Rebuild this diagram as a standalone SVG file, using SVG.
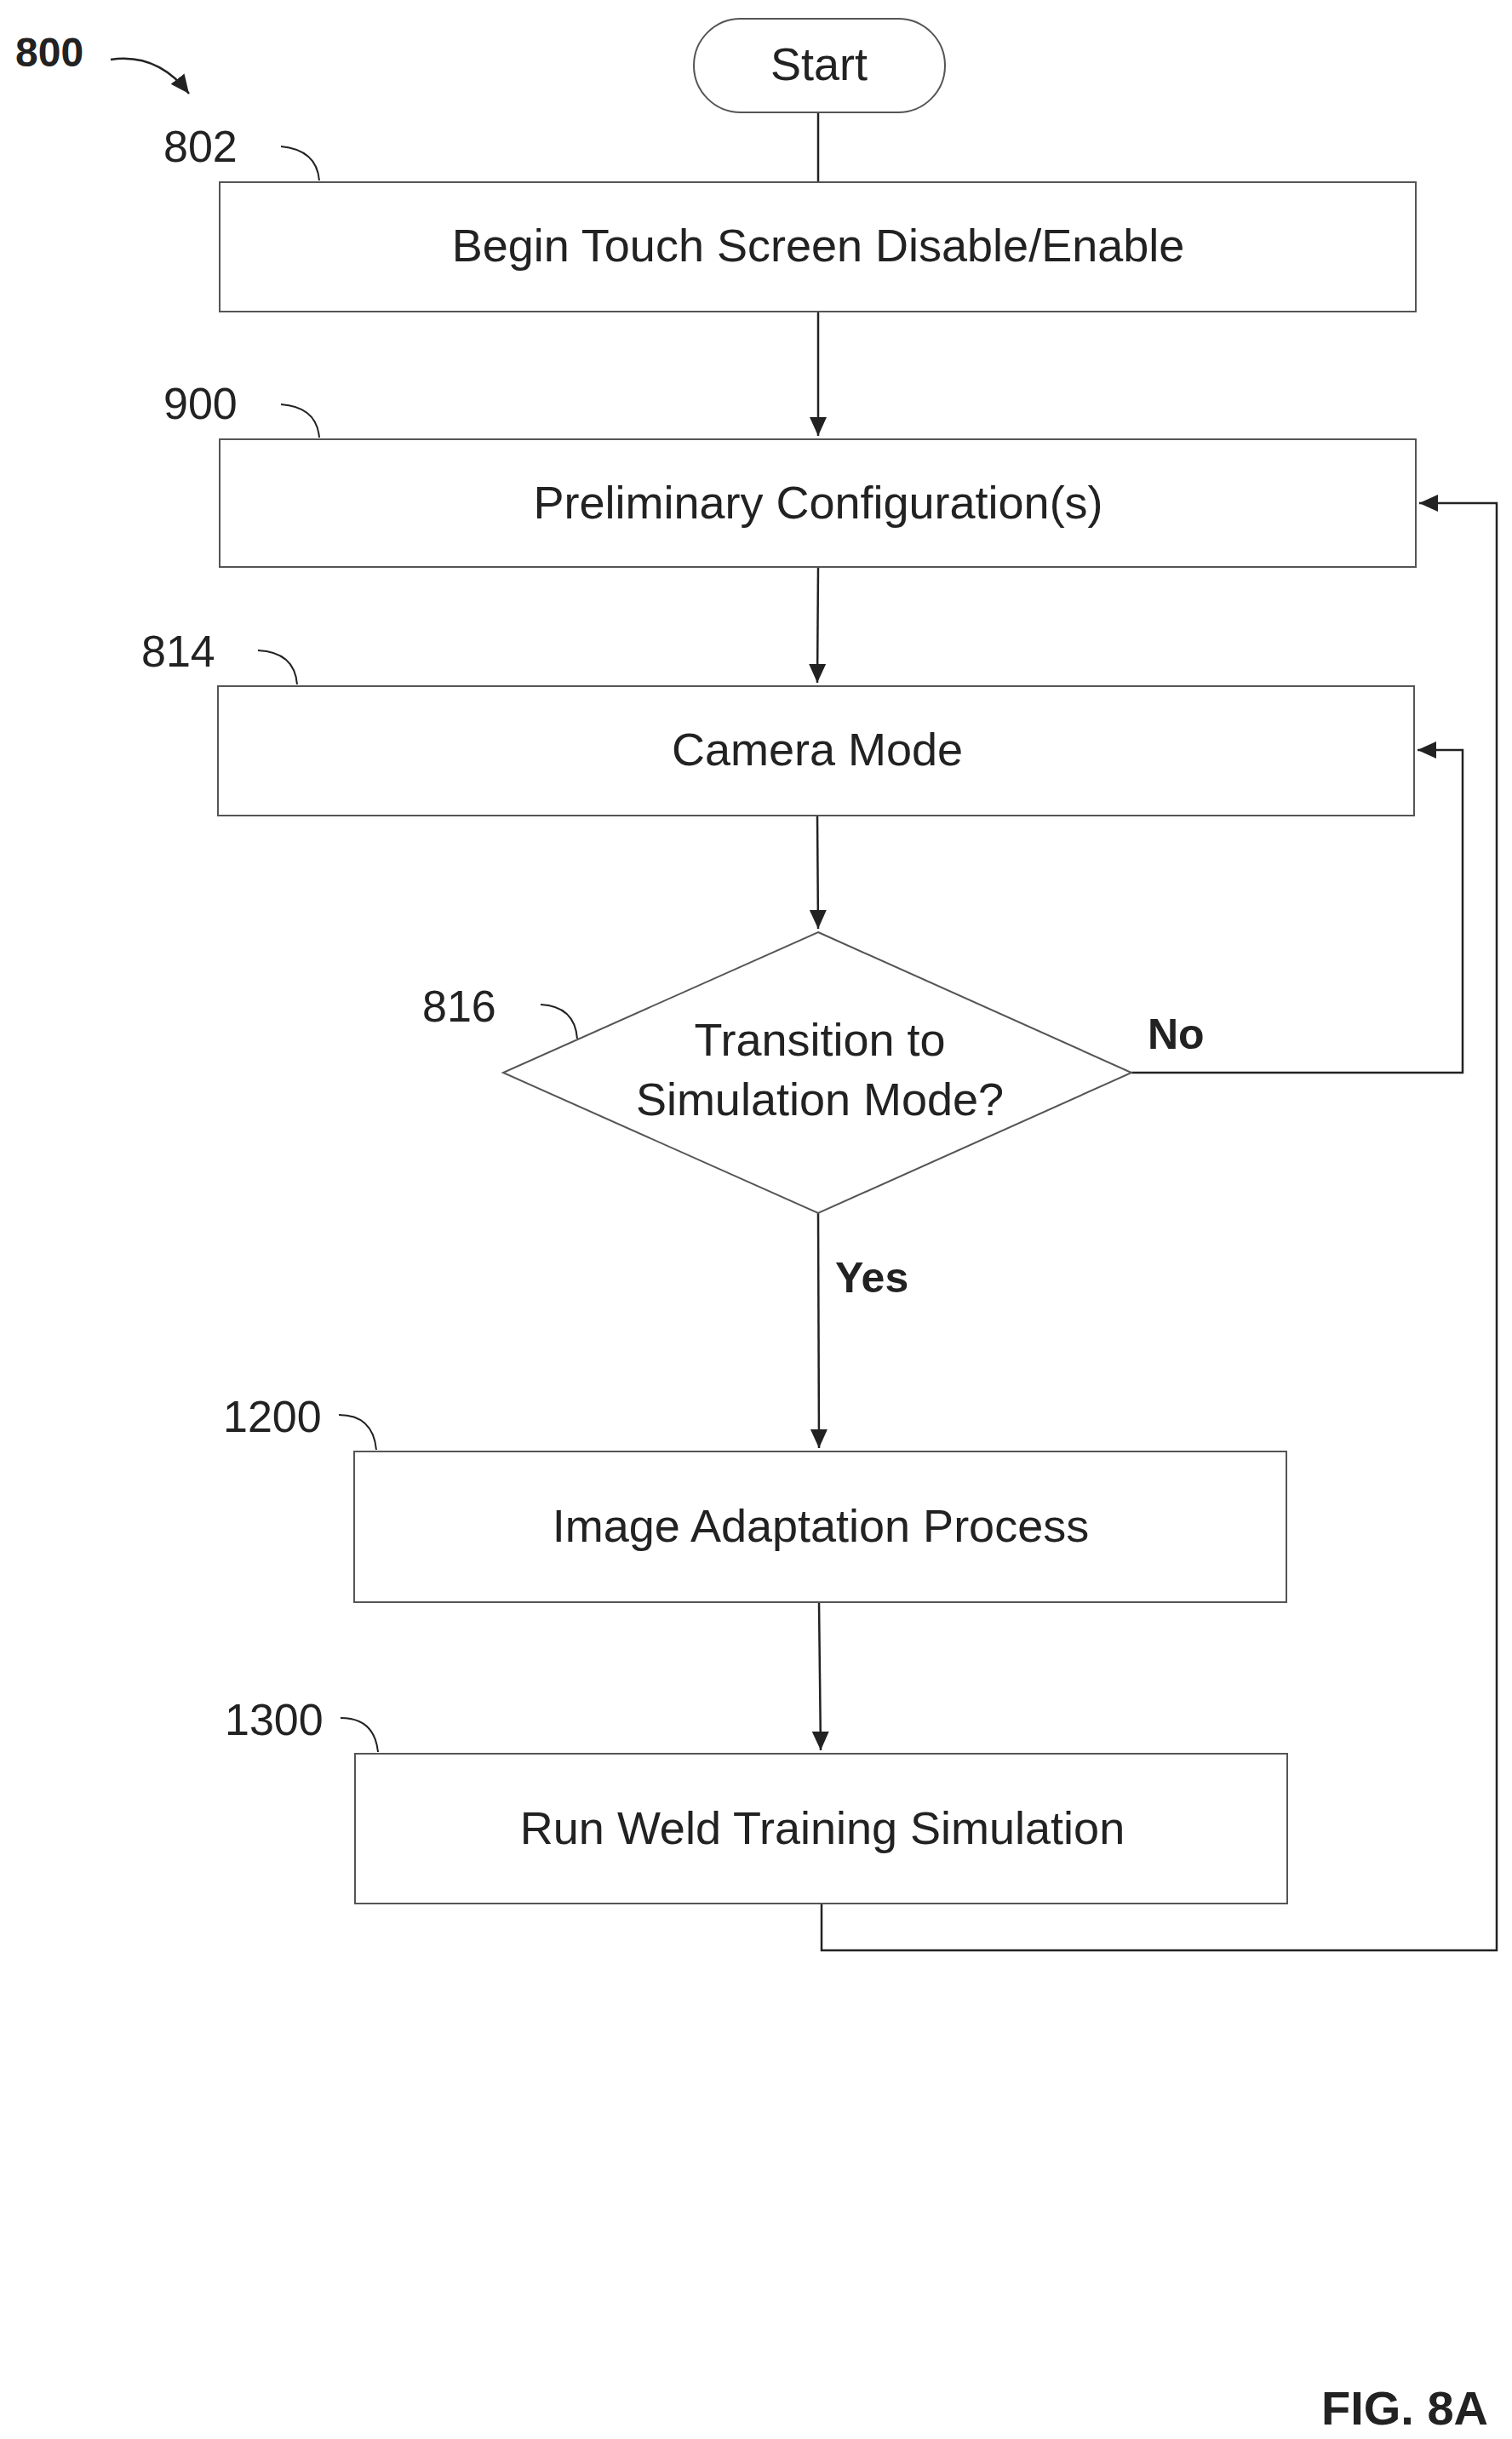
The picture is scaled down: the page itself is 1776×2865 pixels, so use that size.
<svg xmlns="http://www.w3.org/2000/svg" width="1776" height="2865" viewBox="0 0 1776 2865">
<style>
.b{fill:#fff;stroke:#555;stroke-width:2}
.t{font-family:"Liberation Sans",Arial,sans-serif;font-size:54px;fill:#222;text-anchor:middle}
.n{font-family:"Liberation Sans",Arial,sans-serif;font-size:52px;fill:#222}
.bd{font-family:"Liberation Sans",Arial,sans-serif;font-weight:bold;fill:#222}
.c{fill:none;stroke:#222;stroke-width:2.5}
.l{fill:none;stroke:#222;stroke-width:2}
</style>
<defs><marker id="a" markerWidth="12" markerHeight="12" refX="11" refY="6" orient="auto" markerUnits="userSpaceOnUse" viewBox="0 0 12 12"><path d="M0,0 L12,6 L0,12 z" fill="#222"/></marker>
<marker id="a2" markerWidth="24" markerHeight="24" refX="22" refY="12" orient="auto" markerUnits="userSpaceOnUse"><path d="M0,2 L22,12 L0,22 z" fill="#222"/></marker></defs>
<g id="connectors">
<line class="c" x1="961" y1="132" x2="961" y2="214"/>
<line class="c" x1="961" y1="366" x2="961" y2="512" marker-end="url(#a2)"/>
<line class="c" x1="961" y1="666" x2="960" y2="802" marker-end="url(#a2)"/>
<line class="c" x1="960" y1="958" x2="961" y2="1091" marker-end="url(#a2)"/>
<polyline class="c" points="1329,1260 1718,1260 1718,881 1665,881" marker-end="url(#a2)"/>
<line class="c" x1="961" y1="1425" x2="962" y2="1701" marker-end="url(#a2)"/>
<line class="c" x1="962" y1="1882" x2="964" y2="2056" marker-end="url(#a2)"/>
<polyline class="c" points="965,2236 965,2291 1758,2291 1758,591 1667,591" marker-end="url(#a2)"/>
<text class="bd" x="1348" y="1232" font-size="50">No</text>
<text class="bd" x="981" y="1518" font-size="50">Yes</text>
</g>
<g id="label800"><text class="bd" x="18" y="78" font-size="48">800</text>
<path class="c" d="M130,70 Q185,62 222,110" stroke-width="4" marker-end="url(#a2)"/></g>
<g id="start"><rect class="b" x="815" y="22" width="295" height="110" rx="55"/><text class="t" x="962" y="94">Start</text></g>
<g id="n802"><rect class="b" x="258" y="214" width="1405" height="152"/><text class="t" x="961" y="307">Begin Touch Screen Disable/Enable</text>
<text class="n" x="192" y="190">802</text><path class="l" d="M330,172 Q372,176 375,212"/></g>
<g id="n900"><rect class="b" x="258" y="516" width="1405" height="150"/><text class="t" x="961" y="609">Preliminary Configuration(s)</text>
<text class="n" x="192" y="492">900</text><path class="l" d="M330,475 Q372,478 375,514"/></g>
<g id="n814"><rect class="b" x="256" y="806" width="1405" height="152"/><text class="t" x="960" y="899">Camera Mode</text>
<text class="n" x="166" y="783">814</text><path class="l" d="M303,764 Q346,766 349,804"/></g>
<g id="n816"><polygon class="b" points="961,1095 1329,1260 961,1425 591,1260"/>
<text class="t" x="963" y="1240">Transition to</text><text class="t" x="963" y="1310">Simulation Mode?</text>
<text class="n" x="496" y="1200">816</text><path class="l" d="M635,1180 Q675,1182 678,1220"/></g>
<g id="n1200"><rect class="b" x="416" y="1705" width="1095" height="177"/><text class="t" x="964" y="1811">Image Adaptation Process</text>
<text class="n" x="262" y="1682">1200</text><path class="l" d="M398,1662 Q438,1662 442,1703"/></g>
<g id="n1300"><rect class="b" x="417" y="2060" width="1095" height="176"/><text class="t" x="966" y="2166">Run Weld Training Simulation</text>
<text class="n" x="264" y="2038">1300</text><path class="l" d="M400,2018 Q440,2018 444,2058"/></g>
<text class="bd" x="1748" y="2848" font-size="56" text-anchor="end">FIG. 8A</text>
</svg>
